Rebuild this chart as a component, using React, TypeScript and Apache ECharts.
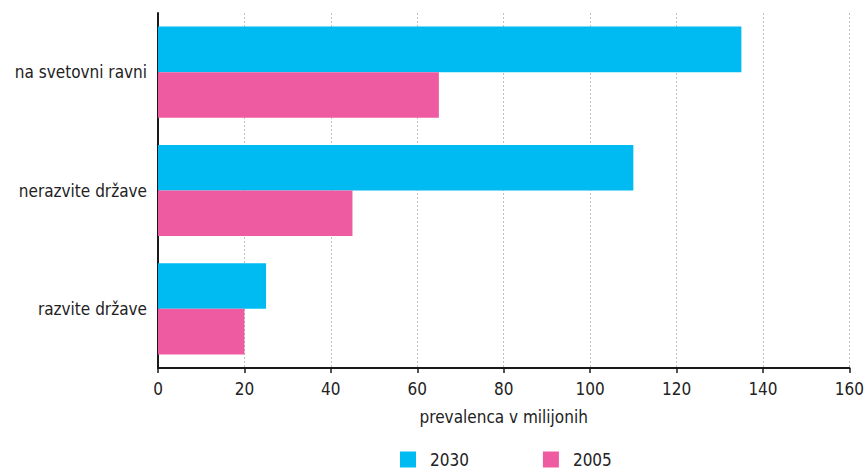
import React, { useEffect, useRef } from "react";
import * as echarts from "echarts";

const categories = ["razvite države", "nerazvite države", "na svetovni ravni"];
const series2030 = [25, 110, 135];
const series2005 = [20, 45, 65];
const seriesNames = ["2030", "2005"];

export default function App() {
  const ref = useRef<HTMLDivElement>(null);
  useEffect(() => {
    const chart = echarts.init(ref.current!, null, { renderer: "svg" });
    const font = "'DejaVu Sans Condensed', 'Open Sans', sans-serif";
    chart.setOption({
      animation: false,
      textStyle: { fontFamily: font },
      grid: { left: 158, right: 16, top: 13, bottom: 102, containLabel: false },
      legend: {
        data: seriesNames,
        top: 451,
        left: 400,
        padding: 0,
        itemWidth: 16,
        itemHeight: 16,
        itemGap: 74,
        icon: "rect",
        textStyle: { fontSize: 17, color: "#222", fontFamily: font, padding: [0, 0, 0, 9] },
      },
      xAxis: {
        type: "value",
        min: 0,
        max: 160,
        interval: 20,
        name: "prevalenca v milijonih",
        nameLocation: "middle",
        nameGap: 40,
        nameTextStyle: { fontSize: 17, color: "#222", fontFamily: font },
        axisLine: { show: true, lineStyle: { color: "#1a1a1a", width: 2 } },
        axisTick: { show: true, length: 5, lineStyle: { color: "#1a1a1a", width: 1.5 } },
        axisLabel: { fontSize: 17, color: "#222", margin: 12, fontFamily: font },
        splitLine: { show: true, lineStyle: { color: "#c0c0c0", type: [2, 2], width: 1 } },
      },
      yAxis: {
        type: "category",
        data: categories,
        axisLine: { show: true, lineStyle: { color: "#1a1a1a", width: 2 } },
        axisTick: { show: false },
        axisLabel: { fontSize: 17, color: "#222", margin: 11, fontFamily: font },
      },
      series: [
        {
          name: seriesNames[0],
          type: "bar",
          data: series2030,
          itemStyle: { color: "#00BAF2" },
          barGap: "0%",
          barCategoryGap: "23%",
        },
        {
          name: seriesNames[1],
          type: "bar",
          data: series2005,
          itemStyle: { color: "#EF5BA1" },
          barGap: "0%",
          barCategoryGap: "23%",
        },
      ],
    });
    return () => chart.dispose();
  }, []);
  return <div ref={ref} style={{ width: 867, height: 470, position: "absolute", left: 0, top: 0 }} />;
}
